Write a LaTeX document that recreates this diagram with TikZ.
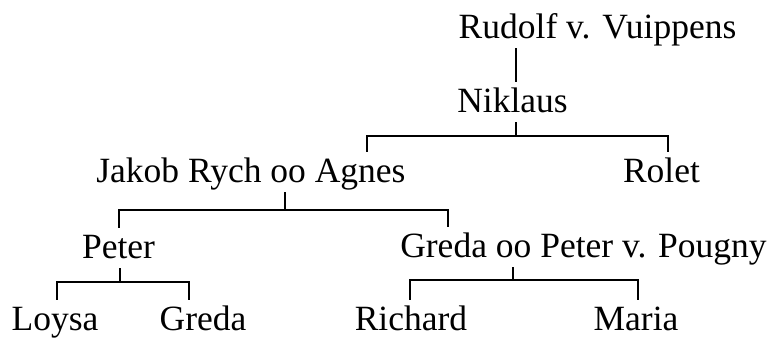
\documentclass[tikz,border=0pt]{standalone}
\usepackage{fontspec}
\setmainfont{Liberation Serif}
\usepackage{tikz}

\begin{document}
\begin{tikzpicture}[x=1pt, y=1pt,
    person/.style={anchor=base, inner sep=0pt, text height=30pt, text depth=10pt,
        font=\fontsize{35.5}{40}\selectfont},
    kin/.style={line width=1.2pt}]
    \useasboundingbox (0,0) rectangle (779,-338);

    \node[person] (Rudolf) at (597.5,-38) {Rudolf v. Vuippens};
    \node[person] (Niklaus) at (512.5,-112) {Niklaus};
    \node[person] (Jakob) at (251,-182) {Jakob Rych oo Agnes};
    \node[person] (Rolet) at (661.5,-182) {Rolet};
    \node[person] (Peter) at (118.5,-258) {Peter};
    \node[person] (GredaP) at (583.5,-257) {Greda oo Peter v. Pougny};
    \node[person] (Loysa) at (55,-330) {Loysa};
    \node[person] (Greda) at (203,-330) {Greda};
    \node[person] (Richard) at (411,-330) {Richard};
    \node[person] (Maria) at (636,-330) {Maria};

    \coordinate (StemRudolf) at (516,0);
    \coordinate (NiklausL) at (367,-136);
    \coordinate (NiklausM) at (516,-136);
    \coordinate (NiklausR) at (668,-136);
    \coordinate (JakobL) at (119,-210);
    \coordinate (JakobM) at (285,-210);
    \coordinate (JakobR) at (448,-210);
    \coordinate (PeterL) at (57,-282);
    \coordinate (PeterM) at (120,-282);
    \coordinate (PeterR) at (189,-282);
    \coordinate (GredaL) at (410,-280);
    \coordinate (GredaM) at (513,-280);
    \coordinate (GredaR) at (638,-280);

    \draw[kin] (Rudolf.south -| StemRudolf) -- (Niklaus.north -| StemRudolf);

    \draw[kin] (Niklaus.south -| NiklausM) -- (NiklausM);
    \draw[kin] (Jakob.north -| NiklausL) -- (NiklausL) -- (NiklausR) -- (Rolet.north -| NiklausR);

    \draw[kin] (Jakob.south -| JakobM) -- (JakobM);
    \draw[kin] (Peter.north -| JakobL) -- (JakobL) -- (JakobR) -- (GredaP.north -| JakobR);

    \draw[kin] (Peter.south -| PeterM) -- (PeterM);
    \draw[kin] (Loysa.north -| PeterL) -- (PeterL) -- (PeterR) -- (Greda.north -| PeterR);

    \draw[kin] (GredaP.south -| GredaM) -- (GredaM);
    \draw[kin] (Richard.north -| GredaL) -- (GredaL) -- (GredaR) -- (Maria.north -| GredaR);
\end{tikzpicture}
\end{document}
